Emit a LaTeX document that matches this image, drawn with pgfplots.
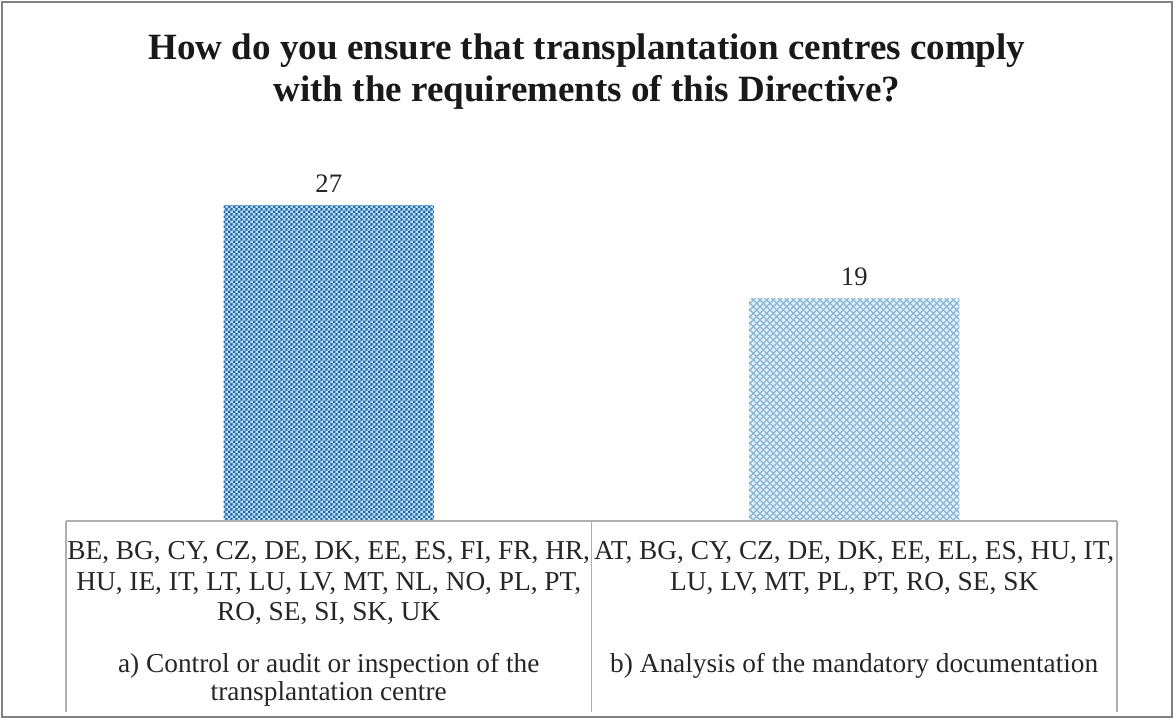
\documentclass[border=0pt]{standalone}
\usepackage{pgfplots}
\pgfplotsset{compat=1.18}
\usetikzlibrary{patterns}
\usepackage{fontspec}
\setmainfont{Liberation Serif}

\definecolor{darkblue}{RGB}{42,102,165}
\definecolor{lightcyan}{RGB}{178,224,246}
\definecolor{gridblue}{RGB}{140,182,214}
\definecolor{gridbg}{RGB}{222,240,250}
\definecolor{framegray}{RGB}{130,130,130}
\definecolor{linegray}{RGB}{175,175,175}

\pgfdeclarepatternformonly{checker}{\pgfqpoint{0pt}{0pt}}{\pgfqpoint{4pt}{4pt}}{\pgfqpoint{4pt}{4pt}}{%
 \pgfpathrectangle{\pgfqpoint{0pt}{0pt}}{\pgfqpoint{2pt}{2pt}}%
 \pgfpathrectangle{\pgfqpoint{2pt}{2pt}}{\pgfqpoint{2pt}{2pt}}%
 \pgfusepath{fill}}

\pgfdeclarepatternformonly{diamondgrid}{\pgfqpoint{-0.5pt}{-0.5pt}}{\pgfqpoint{5.5pt}{5.5pt}}{\pgfqpoint{5pt}{5pt}}{%
 \pgfsetlinewidth{0.9pt}%
 \pgfpathmoveto{\pgfqpoint{-0.5pt}{-0.5pt}}\pgfpathlineto{\pgfqpoint{5.5pt}{5.5pt}}%
 \pgfpathmoveto{\pgfqpoint{-0.5pt}{5.5pt}}\pgfpathlineto{\pgfqpoint{5.5pt}{-0.5pt}}%
 \pgfusepath{stroke}}

\begin{document}
\begin{tikzpicture}
\path[use as bounding box] (0,0) rectangle (880.5pt,-540pt);
\draw[framegray, line width=1.5pt] (1.5pt,-1.5pt) rectangle (879pt,-537.75pt);

\node[align=center, font=\fontsize{27.8}{31.5}\selectfont\bfseries, text=black!90] at (440.25pt,-53.5pt)
 {How do you ensure that transplantation centres comply\\with the requirements of this Directive?};

\begin{axis}[
  at={(49.5pt,-390.75pt)}, anchor=south west,
  scale only axis, width=788.25pt, height=263.25pt,
  xmin=-0.5, xmax=1.5, ymin=0, ymax=30,
  axis lines=none, clip=false,
  bar width=0.4,
  /pgf/number format/assume math mode=true,
  nodes near coords,
  every node near coord/.append style={font=\fontsize{20}{22}\selectfont, text=black!85, yshift=6pt},
]
\addplot[ybar, bar shift=0pt, draw=none, fill=lightcyan,
  postaction={pattern=checker, pattern color=darkblue}]
  coordinates {(0,27)};
\addplot[ybar, bar shift=0pt, draw=none, fill=gridbg,
  postaction={pattern=diamondgrid, pattern color=gridblue}]
  coordinates {(1,19)};

\draw[linegray, line width=1.2pt] (rel axis cs:0,0) -- (rel axis cs:1,0);
\draw[linegray, line width=1.2pt] (rel axis cs:0,0) -- ([yshift=-143pt]rel axis cs:0,0);
\draw[linegray, line width=1.2pt] (rel axis cs:0.5,0) -- ([yshift=-143pt]rel axis cs:0.5,0);
\draw[linegray, line width=1.2pt] (rel axis cs:1,0) -- ([yshift=-143pt]rel axis cs:1,0);

\node[anchor=north, align=center, inner sep=0pt, yshift=-15pt,
  font=\fontsize{20.5}{23}\selectfont, text=black!85] at (axis cs:0,0)
  {BE, BG, CY, CZ, DE, DK, EE, ES, FI, FR, HR,\\HU, IE, IT, LT, LU, LV, MT, NL, NO, PL, PT,\\RO, SE, SI, SK, UK};
\node[anchor=north, align=center, inner sep=0pt, yshift=-15pt,
  font=\fontsize{20.5}{23}\selectfont, text=black!85] at (axis cs:1,0)
  {AT, BG, CY, CZ, DE, DK, EE, EL, ES, HU, IT,\\LU, LV, MT, PL, PT, RO, SE, SK};
\node[anchor=north, align=center, inner sep=0pt, yshift=-99pt,
  font=\fontsize{20.5}{21}\selectfont, text=black!85] at (axis cs:0,0)
  {a) Control or audit or inspection of the\\transplantation centre};
\node[anchor=north, align=center, inner sep=0pt, yshift=-99pt,
  font=\fontsize{20.5}{21}\selectfont, text=black!85] at (axis cs:1,0)
  {b) Analysis of the mandatory documentation};
\end{axis}
\end{tikzpicture}
\end{document}
